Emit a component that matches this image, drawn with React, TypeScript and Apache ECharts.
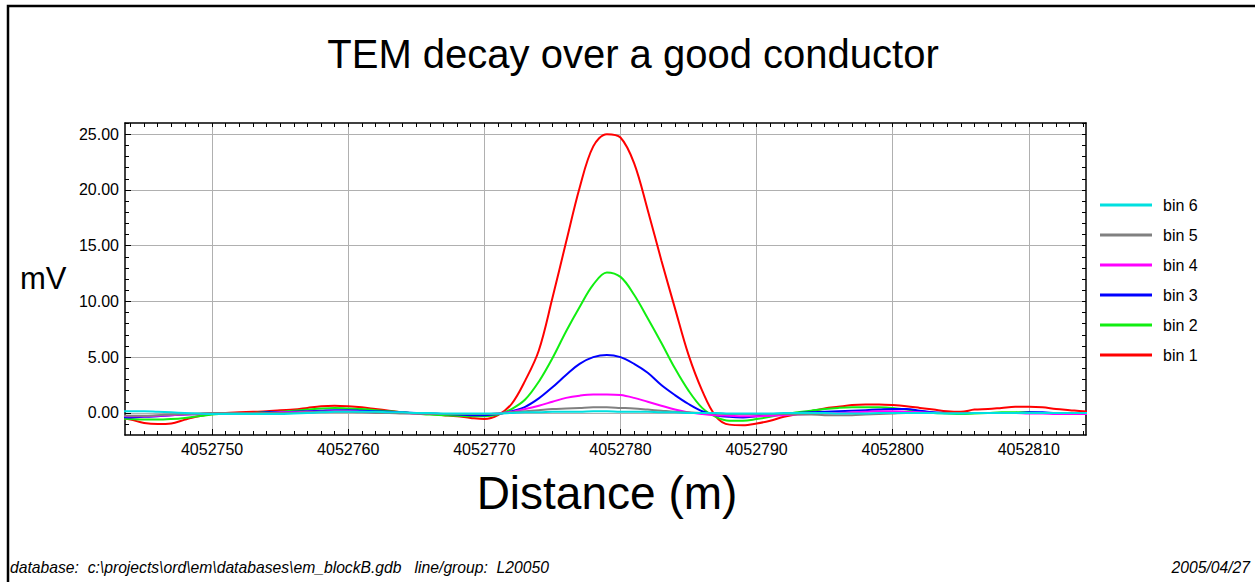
import React, { useEffect, useRef } from "react";
import * as echarts from "echarts";

const TITLE = "TEM decay over a good conductor";
const X_TITLE = "Distance (m)";
const Y_TITLE = "mV";
const FOOTER_LEFT = "database:  c:\\projects\\ord\\em\\databases\\em_blockB.gdb   line/group:  L20050";
const FOOTER_RIGHT = "2005/04/27";

const distance = [
  4052743, 4052744, 4052745, 4052746, 4052747, 4052748, 4052749, 4052750, 4052751, 4052752,
  4052753, 4052754, 4052755, 4052756, 4052757, 4052758, 4052759, 4052760, 4052761, 4052762,
  4052763, 4052764, 4052765, 4052766, 4052767, 4052768, 4052769, 4052770, 4052771, 4052772,
  4052773, 4052774, 4052775, 4052776, 4052777, 4052778, 4052779, 4052780, 4052781, 4052782,
  4052783, 4052784, 4052785, 4052786, 4052787, 4052788, 4052789, 4052790, 4052791, 4052792,
  4052793, 4052794, 4052795, 4052796, 4052797, 4052798, 4052799, 4052800, 4052801, 4052802,
  4052803, 4052804, 4052805, 4052806, 4052807, 4052808, 4052809, 4052810, 4052811, 4052812,
  4052813, 4052814, 4052815,
];

const bin1 = [
  -0.4, -0.6, -0.9, -1.0, -0.95, -0.6, -0.3, -0.1, 0.0, 0.05,
  0.1, 0.15, 0.25, 0.3, 0.45, 0.6, 0.65, 0.6, 0.5, 0.35,
  0.2, 0.05, -0.05, -0.1, -0.2, -0.3, -0.45, -0.55, -0.2, 0.8,
  2.9, 5.6, 10.3, 15.3, 20.2, 23.9, 25.0, 24.7, 22.4, 18.2,
  13.7, 9.4, 5.2, 2.0, -0.3, -1.05, -1.1, -0.95, -0.7, -0.35,
  -0.1, 0.15, 0.4, 0.55, 0.7, 0.75, 0.75, 0.7, 0.6, 0.45,
  0.3, 0.15, 0.1, 0.3, 0.35, 0.45, 0.55, 0.55, 0.5, 0.35,
  0.25, 0.15, 0.1,
];
const bin2 = [
  -0.5, -0.55, -0.6, -0.6, -0.55, -0.45, -0.3, -0.15, -0.05, 0.0,
  0.0, 0.05, 0.1, 0.2, 0.3, 0.4, 0.45, 0.4, 0.35, 0.25,
  0.15, 0.05, -0.05, -0.15, -0.2, -0.25, -0.3, -0.3, -0.15, 0.35,
  1.2, 2.8, 4.9, 7.3, 9.5, 11.5, 12.6, 12.2, 10.6, 8.5,
  6.3, 4.0, 2.0, 0.45, -0.35, -0.7, -0.7, -0.55, -0.35, -0.1,
  0.05, 0.2, 0.35, 0.45, 0.5, 0.5, 0.5, 0.45, 0.3, 0.15,
  0.0, -0.05, -0.1, -0.05, 0.0, 0.05, 0.05, 0.05, 0.0, 0.0,
  0.0, 0.0, 0.0,
];
const bin3 = [
  -0.35, -0.4, -0.35, -0.3, -0.2, -0.15, -0.1, -0.05, 0.0, 0.0,
  0.0, 0.05, 0.05, 0.1, 0.15, 0.2, 0.25, 0.25, 0.2, 0.15,
  0.1, 0.05, 0.0, -0.05, -0.1, -0.15, -0.2, -0.2, -0.1, 0.15,
  0.55, 1.3, 2.3, 3.4, 4.4, 5.0, 5.2, 5.0, 4.4, 3.6,
  2.5, 1.6, 0.8, 0.15, -0.2, -0.35, -0.4, -0.3, -0.2, -0.1,
  0.0, 0.05, 0.1, 0.15, 0.2, 0.25, 0.3, 0.35, 0.35, 0.2,
  0.05, 0.0, 0.0, 0.0, 0.0, 0.0, 0.0, 0.05, 0.05, 0.0,
  0.0, -0.05, -0.05,
];
const bin4 = [
  -0.25, -0.3, -0.3, -0.25, -0.2, -0.15, -0.1, -0.05, 0.0, 0.0,
  0.0, 0.0, 0.05, 0.05, 0.1, 0.1, 0.15, 0.15, 0.1, 0.05,
  0.0, 0.0, -0.05, -0.05, -0.1, -0.1, -0.1, -0.1, -0.05, 0.1,
  0.35, 0.65, 1.0, 1.35, 1.55, 1.65, 1.65, 1.6, 1.35, 1.0,
  0.65, 0.3, 0.05, -0.1, -0.2, -0.25, -0.3, -0.3, -0.25, -0.2,
  -0.15, -0.1, -0.05, 0.0, 0.05, 0.1, 0.15, 0.15, 0.1, 0.05,
  0.0, 0.0, 0.0, 0.0, 0.0, 0.0, 0.0, -0.05, -0.05, -0.1,
  -0.1, -0.1, -0.1,
];
const bin5 = [
  -0.2, -0.25, -0.25, -0.2, -0.15, -0.1, -0.05, 0.0, 0.0, 0.0,
  0.0, 0.0, 0.0, 0.0, 0.05, 0.1, 0.1, 0.1, 0.05, 0.0,
  0.0, -0.05, -0.05, -0.1, -0.1, -0.1, -0.1, -0.1, -0.05, 0.05,
  0.15, 0.25, 0.35, 0.4, 0.45, 0.5, 0.5, 0.45, 0.4, 0.3,
  0.2, 0.1, 0.05, 0.0, -0.05, -0.1, -0.1, -0.1, -0.1, -0.1,
  -0.15, -0.15, -0.2, -0.2, -0.2, -0.15, -0.1, -0.05, 0.0, 0.0,
  0.0, 0.0, 0.0, 0.0, 0.0, 0.0, 0.0, 0.0, 0.0, 0.0,
  0.0, 0.0, 0.0,
];
const bin6 = [
  0.15, 0.15, 0.15, 0.1, 0.05, 0.0, -0.05, -0.1, -0.1, -0.1,
  -0.1, -0.1, -0.1, -0.05, 0.0, 0.05, 0.1, 0.1, 0.1, 0.1,
  0.05, 0.05, 0.0, 0.0, -0.05, -0.05, -0.05, -0.05, -0.05, 0.0,
  0.05, 0.05, 0.1, 0.1, 0.1, 0.15, 0.15, 0.1, 0.1, 0.1,
  0.05, 0.05, 0.0, 0.0, 0.0, -0.05, -0.05, -0.05, -0.05, 0.0,
  0.0, 0.0, 0.0, -0.05, -0.05, -0.05, 0.0, 0.0, 0.0, 0.0,
  0.0, -0.05, -0.05, 0.0, 0.0, 0.0, 0.0, 0.0, 0.0, 0.0,
  0.0, 0.0, 0.0,
];

const seriesNames = ["bin 1", "bin 2", "bin 3", "bin 4", "bin 5", "bin 6"];
const seriesValues = [bin1, bin2, bin3, bin4, bin5, bin6];
const seriesColors = ["#ff0000", "#11ee11", "#0000ff", "#ff00ff", "#808080", "#00e0e0"];
const legendOrder = ["bin 6", "bin 5", "bin 4", "bin 3", "bin 2", "bin 1"];

const xTickValues = [4052750, 4052760, 4052770, 4052780, 4052790, 4052800, 4052810];
const yTickValues = [0, 5, 10, 15, 20, 25];
const X_MIN = 4052743.6;
const X_MAX = 4052814.2;
const Y_MIN = -1.98;
const Y_MAX = 26.0;

const FONT = "'Liberation Sans', Arial, Helvetica, sans-serif";

function range(a: number, b: number, step: number): number[] {
  const out: number[] = [];
  for (let v = a; v <= b + 1e-9; v += step) out.push(Math.round(v * 1000) / 1000);
  return out;
}

export default function App() {
  const ref = useRef<HTMLDivElement>(null);
  useEffect(() => {
    document.body.style.margin = "0";
    if (!ref.current) return;
    const chart = echarts.init(ref.current, undefined, { renderer: "svg" });
    const xMinor = range(4052744, 4052814, 1);
    const yMinor = range(-1, 26, 1);
    const axisLineStyle = { color: "#000", width: 1.5 };
    const tickStyle = { color: "#000", width: 1 };
    const base = { type: "value" as const, min: X_MIN, max: X_MAX };
    const ybase = { type: "value" as const, min: Y_MIN, max: Y_MAX };
    chart.setOption({
      animation: false,
      backgroundColor: "#fff",
      grid: { left: 125, top: 123, width: 961, height: 312, containLabel: false },
      xAxis: [
        {
          ...base,
          position: "bottom",
          axisLine: { show: true, onZero: false, lineStyle: axisLineStyle },
          axisTick: { show: true, inside: true, length: 6, customValues: xTickValues, lineStyle: tickStyle },
          axisLabel: {
            customValues: xTickValues,
            formatter: (v: number) => String(Math.round(v)),
            fontFamily: FONT,
            fontSize: 16,
            color: "#000",
            margin: 6,
          },
          splitLine: { show: true, lineStyle: { color: "#b0b0b0", width: 1 } },
        },
        {
          ...base,
          position: "bottom",
          axisLine: { show: false, onZero: false },
          axisTick: { show: true, inside: true, length: 4, customValues: xMinor, lineStyle: tickStyle },
          axisLabel: { show: false },
          splitLine: { show: false },
        },
        {
          ...base,
          position: "top",
          axisLine: { show: true, onZero: false, lineStyle: axisLineStyle },
          axisTick: { show: true, inside: true, length: 4, customValues: xMinor, lineStyle: tickStyle },
          axisLabel: { show: false },
          splitLine: { show: false },
        },
      ],
      yAxis: [
        {
          ...ybase,
          position: "left",
          axisLine: { show: true, onZero: false, lineStyle: axisLineStyle },
          axisTick: { show: true, inside: true, length: 6, customValues: yTickValues, lineStyle: tickStyle },
          axisLabel: {
            customValues: yTickValues,
            formatter: (v: number) => v.toFixed(2),
            fontFamily: FONT,
            fontSize: 16,
            color: "#000",
            margin: 6,
          },
          splitLine: { show: true, lineStyle: { color: "#b0b0b0", width: 1 } },
        },
        {
          ...ybase,
          position: "left",
          axisLine: { show: false, onZero: false },
          axisTick: { show: true, inside: true, length: 4, customValues: yMinor, lineStyle: tickStyle },
          axisLabel: { show: false },
          splitLine: { show: false },
        },
        {
          ...ybase,
          position: "right",
          axisLine: { show: true, onZero: false, lineStyle: axisLineStyle },
          axisTick: { show: true, inside: true, length: 4, customValues: yMinor, lineStyle: tickStyle },
          axisLabel: { show: false },
          splitLine: { show: false },
        },
      ],
      legend: {
        orient: "vertical",
        left: 1100,
        top: 196,
        padding: 0,
        data: legendOrder,
        icon: "rect",
        itemWidth: 52,
        itemHeight: 3,
        itemGap: 12,
        textStyle: { fontFamily: FONT, fontSize: 16, color: "#000", lineHeight: 18, padding: [0, 0, 0, 6] },
      },
      series: seriesNames.map((name, i) => ({
        name,
        type: "line",
        xAxisIndex: 0,
        yAxisIndex: 0,
        data: distance.map((d, j) => [d, seriesValues[i][j]]),
        showSymbol: false,
        smooth: 0.35,
        color: seriesColors[i],
        lineStyle: { color: seriesColors[i], width: 2 },
        clip: true,
      })),
      graphic: [
        {
          type: "rect",
          shape: { x: 8, y: 6, width: 1400, height: 700 },
          style: { fill: "none", stroke: "#000", lineWidth: 2.5 },
          silent: true,
        },
        {
          type: "text",
          x: 633,
          y: 53.5,
          style: { text: TITLE, font: `40px ${FONT}`, fill: "#000", align: "center", verticalAlign: "middle" },
        },
        {
          type: "text",
          x: 607,
          y: 492.5,
          style: { text: X_TITLE, font: `46px ${FONT}`, fill: "#000", align: "center", verticalAlign: "middle" },
        },
        {
          type: "text",
          x: 20,
          y: 278,
          style: { text: Y_TITLE, font: `31px ${FONT}`, fill: "#000", align: "left", verticalAlign: "middle" },
        },
        {
          type: "text",
          x: 10,
          y: 567.5,
          style: { text: FOOTER_LEFT, font: `italic 15.7px ${FONT}`, fill: "#000", align: "left", verticalAlign: "middle" },
        },
        {
          type: "text",
          x: 1250,
          y: 567.5,
          style: { text: FOOTER_RIGHT, font: `italic 15.7px ${FONT}`, fill: "#000", align: "right", verticalAlign: "middle" },
        },
      ],
    });
    return () => chart.dispose();
  }, []);
  return <div ref={ref} style={{ width: 1255, height: 582 }} />;
}
